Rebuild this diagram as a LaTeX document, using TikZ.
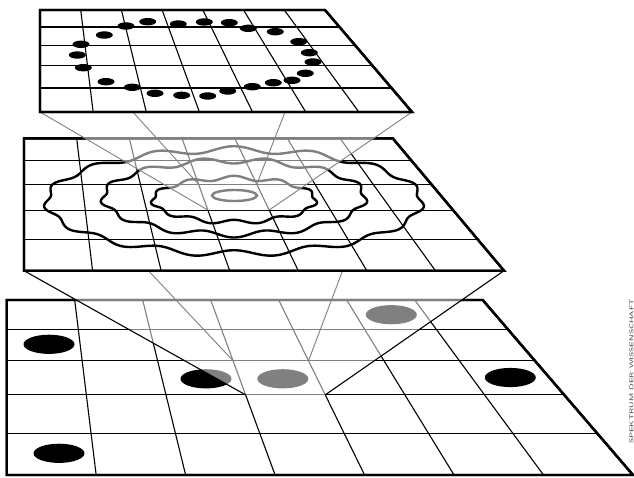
\documentclass[tikz,border=0pt]{standalone}
\usepackage{graphicx}
\usetikzlibrary{calc}
\tikzset{
  plane/.style={draw,fill=white,line width=2.4pt},
  gridln/.style={line width=1.1pt},
  ring/.style={line width=2.4pt},
  spot/.style={fill=black},
  veil/.style={fill=white,fill opacity=0.5},
  backray/.style={draw=black!50,line width=0.9pt},
  frontray/.style={draw=black,line width=1.1pt},
  credit/.style={font=\fontsize{5.5}{6}\selectfont\sffamily,text=black!75,inner sep=0pt}
}
% grid lines of a plane with corners TL, TR, BR, BL
\newcommand{\planegrid}[4]{%
  \foreach \t in {0.167,0.347,0.542,0.765}
    \draw[gridln] ($(#1)!\t!(#4)$) -- ($(#2)!\t!(#3)$);
  \foreach \i in {1,...,6}
    \draw[gridln] ($(#1)!\i/7!(#2)$) -- ($(#4)!\i/7!(#3)$);
}
% corners of the marked cell (row 3, column 4)
\newcommand{\markcell}[1]{%
  \coordinate (#1lt) at ($(#1TL)!3/7!(#1TR)$);
  \coordinate (#1lb) at ($(#1BL)!3/7!(#1BR)$);
  \coordinate (#1rt) at ($(#1TL)!4/7!(#1TR)$);
  \coordinate (#1rb) at ($(#1BL)!4/7!(#1BR)$);
  \coordinate (#1cellTL) at ($(#1lt)!0.347!(#1lb)$);
  \coordinate (#1cellTR) at ($(#1rt)!0.347!(#1rb)$);
  \coordinate (#1cellBR) at ($(#1rt)!0.542!(#1rb)$);
  \coordinate (#1cellBL) at ($(#1lt)!0.542!(#1lb)$);
}
% wavy ring: cx, cy, rx, ry, amplitude, waves
\newcommand{\wavyring}[6]{%
  \draw[ring] plot[domain=0:358,samples=180,smooth cycle]
    ({#1+(#3+#5*sin(#6*\x))*cos(\x)},{#2+(#4+#5*sin(#6*\x))*sin(\x)});
}

\begin{document}
\begin{tikzpicture}[x=1pt,y=-1pt]
  \useasboundingbox (0,0) rectangle (634,477);

  % planes
  \coordinate (tTL) at (40,10);    \coordinate (tTR) at (325,10);
  \coordinate (tBR) at (412,112);  \coordinate (tBL) at (40,112);
  \coordinate (mTL) at (24,138.3); \coordinate (mTR) at (392.7,138.3);
  \coordinate (mBR) at (504,270.7);\coordinate (mBL) at (24,270.7);
  \coordinate (bTL) at (6.7,300);  \coordinate (bTR) at (482.7,300);
  \coordinate (bBR) at (633,475);  \coordinate (bBL) at (6.7,475);
  \markcell{m}
  \markcell{b}

  % bottom plane
  \draw[plane] (bTL) -- (bTR) -- (bBR) -- (bBL) -- cycle;
  \planegrid{bTL}{bTR}{bBR}{bBL}
  \foreach \p in {(49,344.3),(59,453.3),(206,378.8),(282.8,378.8),(391.3,314.7),(510.3,377.5)}
    \fill[spot] \p ellipse (25.5pt and 9.6pt);
  \draw[plane,fill=none] (bTL) -- (bTR) -- (bBR) -- (bBL) -- cycle;

  % lower cone
  \fill[veil] (mBL) -- (mBR) -- (bcellBR) -- (bcellBL) -- cycle;
  \draw[backray] (mTL) -- (bcellTL);
  \draw[backray] (mTR) -- (bcellTR);
  \draw[frontray] (mBL) -- (bcellBL);
  \draw[frontray] (mBR) -- (bcellBR);

  % middle plane
  \draw[plane] (mTL) -- (mTR) -- (mBR) -- (mBL) -- cycle;
  \planegrid{mTL}{mTR}{mBR}{mBL}
  \wavyring{234}{200}{81.5}{22}{2.2}{11}
  \wavyring{234}{197.5}{131}{37}{3}{13}
  \wavyring{234}{201.5}{187.5}{52}{3.3}{15}
  \draw[ring] (234.5,195.5) ellipse (22.5pt and 5.5pt);
  \draw[plane,fill=none] (mTL) -- (mTR) -- (mBR) -- (mBL) -- cycle;

  % upper cone
  \fill[veil] (tBL) -- (tBR) -- (mcellBR) -- (mcellBL) -- cycle;
  \draw[backray] (tTL) -- (mcellTL);
  \draw[backray] (tTR) -- (mcellTR);
  \draw[backray] (tBL) -- (mcellBL);
  \draw[backray] (tBR) -- (mcellBR);

  % top plane
  \draw[plane] (tTL) -- (tTR) -- (tBR) -- (tBL) -- cycle;
  \planegrid{tTL}{tTR}{tBR}{tBL}
  \foreach \p in {(104.3,35),(126,26),(147.7,21.7),(178.3,24),(204.3,22),(229.3,22.7),
                  (248.3,28.3),(275.3,31.7),(298.7,41.7),(309.3,52.7),(313,62),(305.3,73.3),
                  (292,80.3),(273.3,82.7),(252.3,86.7),(227.7,91),(207.7,96),(181.7,95.3),
                  (155,93.3),(132.3,87.3),(106,81.7),(83.3,67.7),(77.3,55),(81,44.3)}
    \fill[spot] \p ellipse (8.5pt and 3.7pt);
  \draw[plane,fill=none] (tTL) -- (tTR) -- (tBR) -- (tBL) -- cycle;

  \node[credit,rotate=90] (credit) at (631.5,371.5) {\scalebox{1.6}[1]{SPEKTRUM DER WISSENSCHAFT}};
\end{tikzpicture}
\end{document}
